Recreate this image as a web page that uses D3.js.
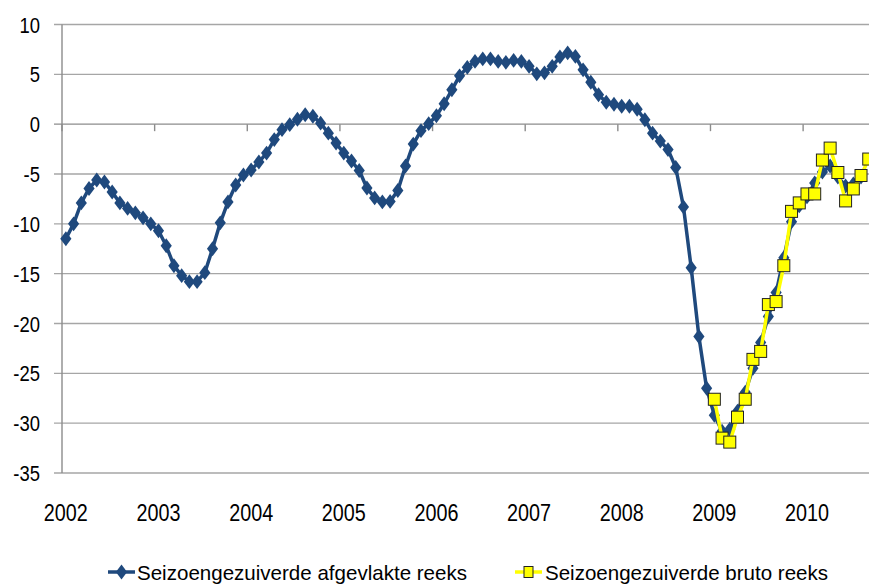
<!DOCTYPE html>
<html><head><meta charset="utf-8">
<script src="https://cdn.jsdelivr.net/npm/d3@7"></script>
<style>
html,body{margin:0;padding:0;background:#fff;}
svg text{font-family:"Liberation Sans",Arial,sans-serif;fill:#000;}
</style></head>
<body>
<svg id="c" width="869" height="585"></svg>
<script>
// Data: monthly index values, starting January 2002
const years = ["2002","2003","2004","2005","2006","2007","2008","2009","2010"];
const yTicks = [10,5,0,-5,-10,-15,-20,-25,-30,-35];
const seriesNames = ["Seizoengezuiverde afgevlakte reeks","Seizoengezuiverde bruto reeks"];
// smoothed series, from Jan 2002 (month 0)
const smoothed = [
 -11.5,-10.0,-7.9,-6.45,-5.6,-5.8,-6.8,-7.9,-8.45,-8.9,-9.4,-10.0,
 -10.7,-12.2,-14.2,-15.2,-15.8,-15.8,-14.9,-12.5,-9.9,-7.8,-6.1,-5.1,
 -4.6,-3.8,-2.9,-1.55,-0.55,-0.05,0.5,0.95,0.8,0.1,-0.9,-1.9,
 -2.9,-3.7,-4.65,-6.4,-7.4,-7.8,-7.75,-6.65,-4.2,-2.0,-0.65,0.05,
 0.85,2.05,3.45,4.85,5.7,6.3,6.55,6.55,6.3,6.2,6.4,6.3,
 5.8,5.05,5.15,5.8,6.75,7.15,6.8,5.45,4.2,2.95,2.2,2.0,
 1.8,1.8,1.5,0.45,-0.9,-1.7,-2.55,-4.35,-8.3,-14.4,-21.3,-26.5,
 -29.2,-30.8,-30.6,-28.8,-26.9,-24.5,-21.9,-19.3,-16.9,-13.4,-9.8,-8.2,
 -7.3,-5.9,-4.8,-4.2,-5.3,-6.2,-6.0,-5.3
];
// raw series, from Jan 2009 (month 84)
const rawStart = 84;
const raw = [
 -27.6,-31.5,-31.9,-29.4,-27.6,-23.6,-22.8,-18.1,-17.8,-14.2,-8.75,-7.9,
 -7.0,-7.0,-3.6,-2.4,-4.85,-7.7,-6.5,-5.15,-3.5
];

const svg = d3.select("#c");
const x = d3.scaleLinear().domain([0,108]).range([62, 62+108*7.72]);
const y = d3.scaleLinear().domain([-35,10]).range([473,24.5]);
const blue = "#1F497D", yellow = "#FFFF00";
const sx = 0.82; // narrow font emulation

// gridlines
svg.append("g").selectAll("line").data(yTicks).join("line")
  .attr("x1",54).attr("x2",869)
  .attr("y1",d=>y(d)).attr("y2",d=>y(d))
  .attr("stroke",d=>d===0?"#8c8c8c":"#a6a6a6").attr("stroke-width",1.4);

// y axis line
svg.append("line").attr("x1",62).attr("x2",62).attr("y1",y(10)).attr("y2",y(-35))
  .attr("stroke","#8c8c8c").attr("stroke-width",1.4);

// x ticks on zero line
svg.append("g").selectAll("line").data(d3.range(0,9)).join("line")
  .attr("x1",d=>x(d*12)).attr("x2",d=>x(d*12))
  .attr("y1",y(0)).attr("y2",y(0)+7)
  .attr("stroke","#8c8c8c").attr("stroke-width",1.4);

// y labels
svg.append("g").selectAll("text").data(yTicks).join("text")
  .attr("transform",d=>`translate(40,${y(d)}) scale(${sx},1)`)
  .attr("dy","0.36em")
  .attr("text-anchor","end").attr("font-size",22.5).text(d=>d);

// x labels
svg.append("g").selectAll("text").data(years).join("text")
  .attr("transform",(d,i)=>`translate(${x(i*12+0.5)},521) scale(0.86,1)`)
  .attr("text-anchor","middle").attr("font-size",23).text(d=>d);

// smoothed line
const lineS = d3.line().x((d,i)=>x(i+0.5)).y(d=>y(d));
svg.append("path").datum(smoothed).attr("d",lineS)
  .attr("fill","none").attr("stroke",blue).attr("stroke-width",3.5).attr("stroke-linejoin","round");
const diamond = d3.symbol().type(d3.symbolDiamond).size(64);
svg.append("g").selectAll("path").data(smoothed).join("path")
  .attr("d",diamond)
  .attr("transform",(d,i)=>`translate(${x(i+0.5)},${y(d)}) scale(1.3,1)`)
  .attr("fill",blue);

// raw line
const lineR = d3.line().x((d,i)=>x(rawStart+i+0.5)).y(d=>y(d));
svg.append("path").datum(raw).attr("d",lineR)
  .attr("fill","none").attr("stroke",yellow).attr("stroke-width",3.5).attr("stroke-linejoin","round");
const sq = 12;
svg.append("g").selectAll("rect").data(raw).join("rect")
  .attr("x",(d,i)=>x(rawStart+i+0.5)-sq/2).attr("y",d=>y(d)-sq/2)
  .attr("width",sq).attr("height",sq)
  .attr("fill",yellow).attr("stroke","#222").attr("stroke-width",1);

// legend
const ly = 572;
const lg1 = svg.append("g");
lg1.append("line").attr("x1",108).attr("x2",135).attr("y1",ly).attr("y2",ly)
  .attr("stroke",blue).attr("stroke-width",3.5);
lg1.append("path").attr("d",diamond).attr("transform",`translate(121.5,${ly}) scale(1.3,1)`).attr("fill",blue);
lg1.append("text").attr("x",137).attr("y",ly).attr("dy","0.36em").attr("font-size",21)
  .attr("textLength",330).attr("lengthAdjust","spacingAndGlyphs").text(seriesNames[0]);
const lg2 = svg.append("g");
lg2.append("line").attr("x1",515).attr("x2",542).attr("y1",ly).attr("y2",ly)
  .attr("stroke",yellow).attr("stroke-width",3.5);
lg2.append("rect").attr("x",524).attr("y",ly-5.5).attr("width",9).attr("height",11)
  .attr("fill",yellow).attr("stroke","#222").attr("stroke-width",1);
lg2.append("text").attr("x",545).attr("y",ly).attr("dy","0.36em").attr("font-size",21)
  .attr("textLength",283).attr("lengthAdjust","spacingAndGlyphs").text(seriesNames[1]);
</script>
</body></html>
